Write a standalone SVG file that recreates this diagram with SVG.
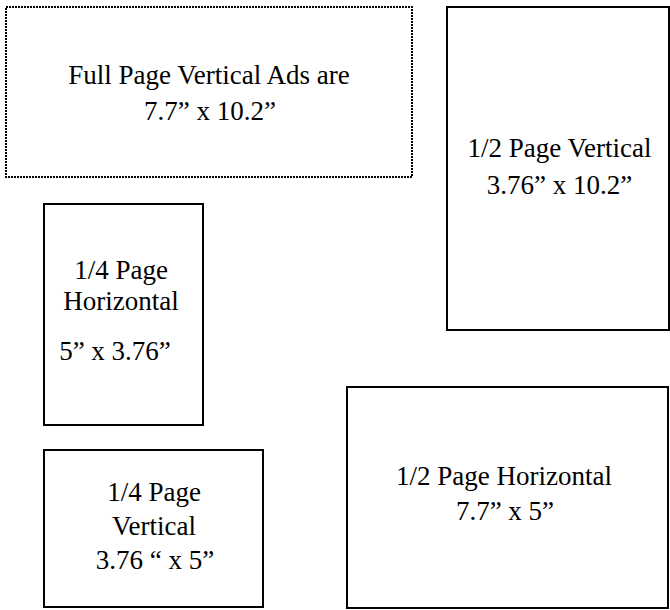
<svg xmlns="http://www.w3.org/2000/svg" width="670" height="610" viewBox="0 0 670 610">
<style>
.box{fill:#fff;stroke:#000;stroke-width:2}
.dot{fill:#fff;stroke:#000;stroke-width:2;stroke-dasharray:2 1}
text{font-family:"Liberation Serif","Times New Roman",serif;font-size:27px;fill:#000;text-anchor:middle}
</style>
<rect width="670" height="610" fill="#fff"/>
<g id="full-page">
<rect class="dot" x="6" y="7" width="406" height="170"/>
<text x="209" y="83.5">Full Page Vertical Ads are</text>
<text x="210" y="119.5">7.7” x 10.2”</text>
</g>
<g id="half-vertical">
<rect class="box" x="447" y="7" width="222" height="323"/>
<text x="559.5" y="157">1/2 Page Vertical</text>
<text x="559.5" y="194">3.76” x 10.2”</text>
</g>
<g id="quarter-horizontal">
<rect class="box" x="44" y="204" width="159" height="221"/>
<text x="121" y="278.5">1/4 Page</text>
<text x="121" y="309.5">Horizontal</text>
<text x="115" y="360">5” x 3.76”</text>
</g>
<g id="quarter-vertical">
<rect class="box" x="44" y="450" width="219" height="157"/>
<text x="154" y="500.5">1/4 Page</text>
<text x="154" y="534.5">Vertical</text>
<text x="155" y="569">3.76 “ x 5”</text>
</g>
<g id="half-horizontal">
<rect class="box" x="347" y="387" width="321" height="221"/>
<text x="504" y="484.5">1/2 Page Horizontal</text>
<text x="505" y="520">7.7” x 5”</text>
</g>
<g id="connectors"></g>
</svg>
